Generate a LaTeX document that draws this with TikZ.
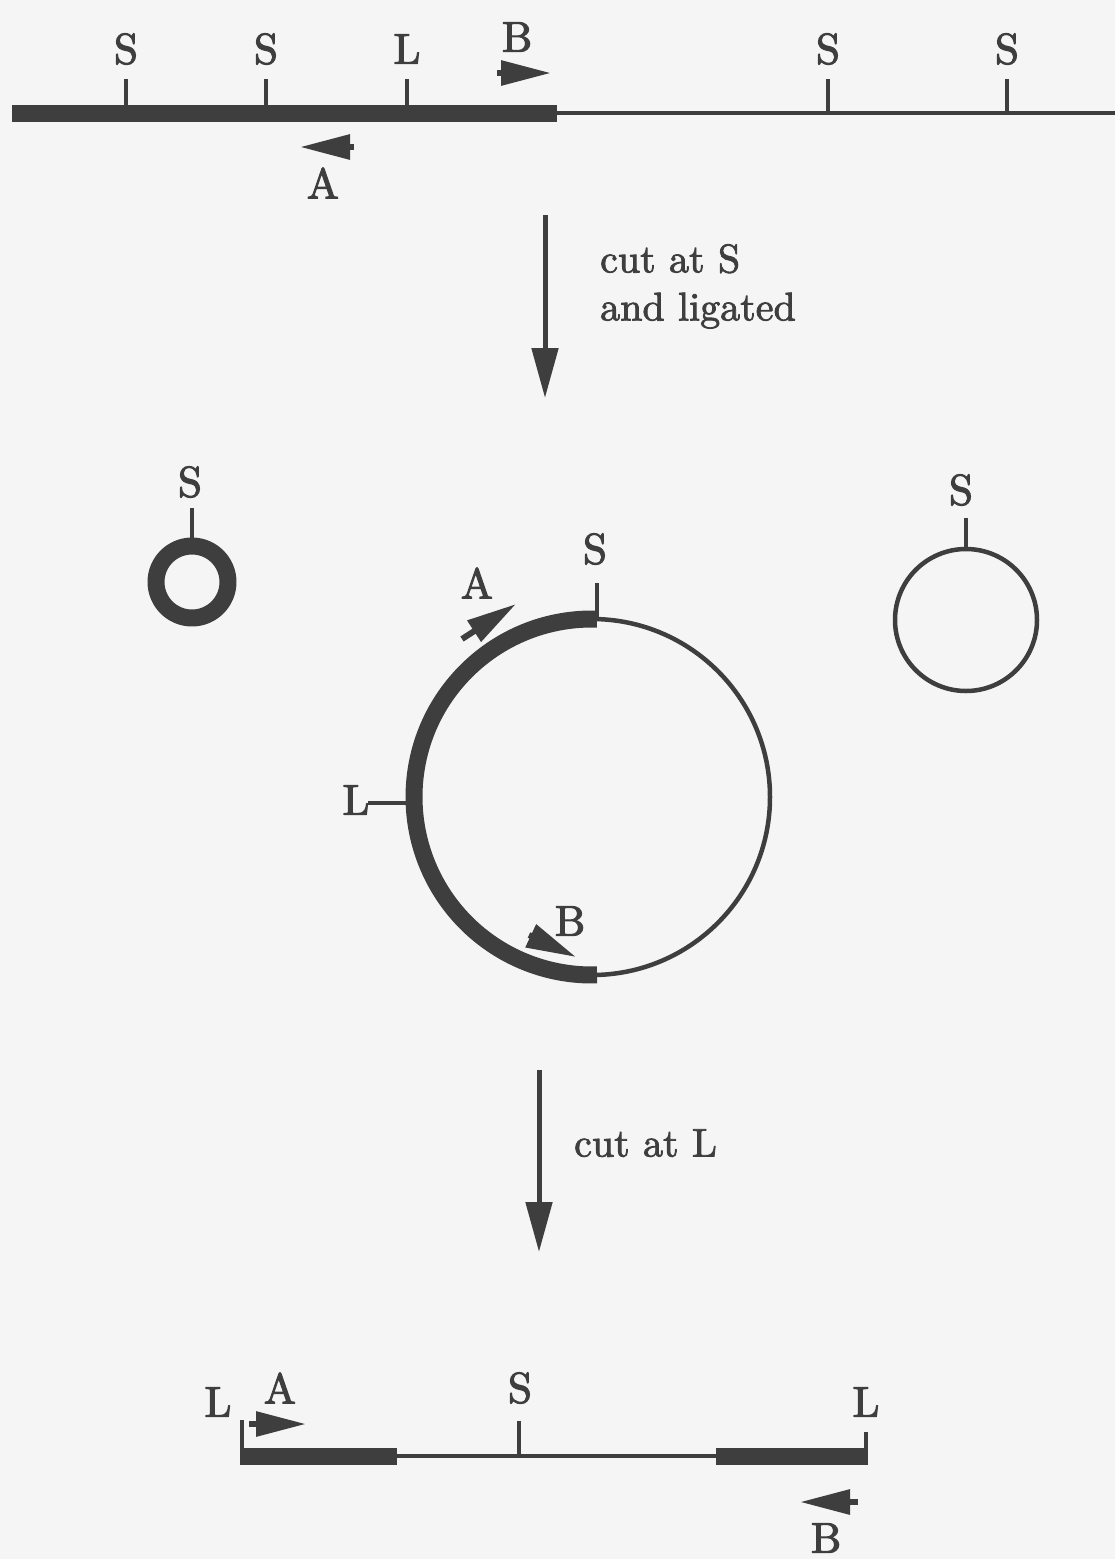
\documentclass[tikz,border=0pt]{standalone}
\font\diagfont="[lmroman10-regular]:mapping=tex-text;embolden=2.5" at 43pt
\font\notefont="[lmroman10-regular]:mapping=tex-text;embolden=2" at 40pt
\newcommand\dnafont{\diagfont}
\newcommand\stepfont{\notefont\baselineskip=48pt\relax}
\usetikzlibrary{arrows.meta}
\definecolor{ink}{RGB}{62,62,62}
\definecolor{paper}{RGB}{245,245,245}
\begin{document}
\begin{tikzpicture}[x=1pt, y=-1pt, line join=round, >={Triangle[length=50pt,width=26pt]}]
	\tikzset{every node/.style={text=ink, inner sep=0pt, font=\dnafont},
		step label/.style={anchor=north west, align=left, font=\stepfont},
		thin dna/.style={draw=ink, line width=4.5pt},
		thick dna/.style={draw=ink, line width=17pt},
		site/.style={draw=ink, line width=4pt},
		primer/.style={draw=ink, line width=6pt, -{Triangle[length=50pt,width=24pt]}},
		step arrow/.style={draw=ink, line width=5pt, ->}}
	\fill[paper] (0,0) rectangle (1115,1559);
	\useasboundingbox (0,0) rectangle (1115,1559);
	% linear DNA before cutting
	\def\ya{113}
	\draw[thin dna] (557,\ya) -- (1115,\ya);
	\draw[thick dna] (12,\ya) -- (557,\ya);
	\foreach \x/\t [count=\i] in {126/S,266/S,407/L,828/S,1007/S}{
		\draw[site] (\x,\ya) -- (\x,79);
		\node (top\i) at (\x,49) {\t};
	}
	\draw[primer] (354,147) -- (300,147);
	\node (topA) at (323,183) {A};
	\draw[primer] (497,73) -- (551,73);
	\node (topB) at (517,37) {B};
	% first step
	\coordinate (s1) at (545,215); \coordinate (e1) at (545,398);
	\draw[step arrow] (s1) -- (e1);
	\node[step label] (cutS) at (600,244) {cut at S\\and ligated};
	% small circle
	\draw[ink, line width=17pt] (192,582) circle[radius=36];
	\draw[site] (192,548) -- (192,508);
	\node (smallS) at (190,482) {S};
	% big circle
	\def\r{178}
	\coordinate (c) at (592,797);
	\draw[site] (368,803) -- (414,803);
	\draw[thin dna] (c) circle[radius=\r];
	\draw[thick dna] (c) ++(271.6:\r) arc[start angle=271.6, end angle=88.4, radius=\r];
	\draw[site] (597,620) -- (597,583);
	\node (bigS) at (595,549) {S};
	\node (bigL) at (356,800) {L};
	\draw[primer] (462,639) -- (516,604);
	\node (bigA) at (477,583) {A};
	\draw[primer] (529,935) -- (576,957);
	\node (bigB) at (570,921) {B};
	% large circle, no insert
	\draw[thin dna] (966,620) circle[radius=71];
	\draw[site] (966,550) -- (966,518);
	\node (rightS) at (961,490) {S};
	% second step
	\coordinate (s2) at (539,1070); \coordinate (e2) at (539,1252);
	\draw[step arrow] (s2) -- (e2);
	\node[step label] (cutL) at (574,1129) {cut at L};
	% linear DNA after cutting at L
	\def\yb{1456}
	\draw[thin dna] (397,\yb) -- (716,\yb);
	\draw[thick dna] (240,\yb) -- (397,\yb);
	\draw[thick dna] (716,\yb) -- (868,\yb);
	\draw[site] (242,\yb) -- (242,1420);
	\draw[site] (866,\yb) -- (866,1432);
	\draw[site] (519,\yb) -- (519,1421);
	\node (botL1) at (218,1402) {L};
	\node (botA) at (280,1388) {A};
	\node (botS) at (520,1388) {S};
	\node (botL2) at (866,1402) {L};
	\draw[primer] (249,1424) -- (306,1424);
	\draw[primer] (858,1502) -- (800,1502);
	\node (botB) at (826,1538) {B};
\end{tikzpicture}
\end{document}
